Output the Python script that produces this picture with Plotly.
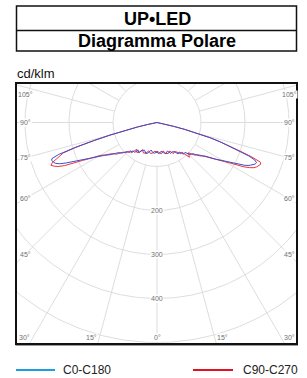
import numpy as np
import plotly.graph_objects as go

# ---------------- data (cd/klm) ----------------
gamma = [0, 4, 8, 12, 16, 20, 24, 28, 31, 34, 37, 40, 43, 46, 49, 52, 55, 58] + list(range(60, 91))

c180 = [66, 70, 69, 64, 72, 75, 69, 72, 80, 76, 85, 84, 93, 95, 106, 111, 127, 141,
        152, 160, 170, 182, 196, 210, 226, 240, 248, 252, 254, 253, 235, 195, 150, 110,
        75, 45, 22, 8, 2, 0, 0, 0, 0, 0, 0, 0, 0, 0, 0]
c270 = [69, 65, 70, 72, 67, 74, 76, 70, 79, 82, 76, 90, 88, 99, 103, 117, 123, 139,
        150, 162, 176, 190, 205, 232, 246, 254, 260, 255, 244, 232, 224, 193, 150, 111,
        76, 46, 22, 8, 2, 0, 0, 0, 0, 0, 0, 0, 0, 0, 0]
c0 = [68, 71, 66, 70, 74, 69, 77, 75, 78, 86, 84, 94, 93, 105, 108, 123, 133, 157,
      174, 184, 196, 210, 222, 231, 238, 242, 244, 238, 222, 195, 172, 150, 125, 95,
      65, 38, 18, 6, 1, 0, 0, 0, 0, 0, 0, 0, 0, 0, 0]
c90 = [65, 68, 72, 66, 73, 75, 71, 80, 77, 81, 89, 88, 108, 99, 113, 119, 137, 156,
       178, 190, 205, 222, 234, 243, 248, 251, 254, 252, 230, 200, 175, 150, 126, 96,
       66, 39, 18, 6, 1, 0, 0, 0, 0, 0, 0, 0, 0, 0, 0]

radial_ticks = [100, 200, 300, 400, 500]
radial_labels = [200, 300, 400]
angle_step = 15
series_names = ["C0-C180", "C90-C270"]

# ---------------- layout constants ----------------
W, H = 307, 378
L, R, T, B = 16, 10, 83, 34
PW, PH = W - L - R, H - T - B
SCALE = 0.44          # px per cd/klm
CX, CY = 157, 122.5   # pixel position of polar centre
x_min = -(CX - L) / SCALE
x_max = x_min + PW / SCALE
y_max = (CY - T) / SCALE
y_min = y_max - PH / SCALE

BLUE_CURVE = "#3d4fd2"
RED_CURVE = "#f03535"
BLUE_LEG = "#1b9fe2"
RED_LEG = "#e3101e"
GRID = "#d9d9d9"
LBL = "#707070"


def px(x):
    return (x - L) / PW


def py(y):
    return (H - B - y) / PH


g = np.radians(np.array(gamma, dtype=float))


def curve(left, right):
    left = np.array(left, dtype=float)
    right = np.array(right, dtype=float)
    xl = -left * np.sin(g)
    yl = -left * np.cos(g)
    xr = right * np.sin(g)
    yr = -right * np.cos(g)
    x = np.concatenate([xl[::-1], xr])
    y = np.concatenate([yl[::-1], yr])
    return x, y


fig = go.Figure()

# grid circles
phi = np.radians(np.arange(0, 361, 1))
for r in radial_ticks:
    fig.add_trace(go.Scatter(x=r * np.sin(phi), y=r * np.cos(phi), mode="lines",
                             line=dict(color=GRID, width=0.9), hoverinfo="skip",
                             showlegend=False))
# radial lines
for a in range(0, 360, angle_step):
    ar = np.radians(a)
    fig.add_trace(go.Scatter(x=[100 * np.sin(ar), 800 * np.sin(ar)],
                             y=[-100 * np.cos(ar), -800 * np.cos(ar)], mode="lines",
                             line=dict(color=GRID, width=0.9), hoverinfo="skip",
                             showlegend=False))

# curves: red first, blue on top
xr_, yr_ = curve(c270, c90)
fig.add_trace(go.Scatter(x=xr_, y=yr_, mode="lines", name=series_names[1],
                         line=dict(color=RED_CURVE, width=1), showlegend=False))
xb_, yb_ = curve(c180, c0)
fig.add_trace(go.Scatter(x=xb_, y=yb_, mode="lines", name=series_names[0],
                         line=dict(color=BLUE_CURVE, width=1), showlegend=False))

annotations = []
small = dict(family="Liberation Sans, Arial, sans-serif", size=7, color=LBL)

# side angle labels
x_side = -300
for a in [45, 60, 75, 90, 105]:
    yv = x_side / np.tan(np.radians(a))
    yv = min(yv, y_max - 25)
    for xs in (x_side, -x_side):
        annotations.append(dict(x=xs, y=yv, xref="x", yref="y", text=f"{a}°",
                                showarrow=False, font=small, bgcolor="white", borderpad=0,
                                xanchor="center", yanchor="middle"))
# bottom angle labels
y_bot = -488
for a in [0, 15, 30]:
    xv = -y_bot * np.tan(np.radians(a))
    if a == 0:
        annotations.append(dict(x=0, y=y_bot, xref="x", yref="y", text="0°",
                                showarrow=False, font=small, bgcolor="white",
                                borderpad=0, xanchor="center", yanchor="middle"))
    else:
        annotations.append(dict(x=-xv - 4, y=y_bot, xref="x", yref="y", text=f"{a}°",
                                showarrow=False, font=small, bgcolor="white",
                                borderpad=0, xanchor="right", yanchor="middle"))
        annotations.append(dict(x=xv + 4, y=y_bot, xref="x", yref="y", text=f"{a}°",
                                showarrow=False, font=small, bgcolor="white",
                                borderpad=0, xanchor="left", yanchor="middle"))
# radial labels
for r in radial_labels:
    annotations.append(dict(x=0, y=-r, xref="x", yref="y", text=str(r),
                            showarrow=False, font=small, bgcolor="white",
                            borderpad=0, xanchor="center", yanchor="middle"))

# title
title_font = dict(family="Liberation Sans, Arial, sans-serif", size=18, color="black")
annotations.append(dict(x=px(157), y=py(19), xref="paper", yref="paper",
                        text="<b>UP•LED</b>", showarrow=False, font=title_font,
                        xanchor="center", yanchor="middle"))
annotations.append(dict(x=px(157), y=py(41), xref="paper", yref="paper",
                        text="<b>Diagramma Polare</b>", showarrow=False, font=title_font,
                        xanchor="center", yanchor="middle"))
annotations.append(dict(x=px(15), y=py(73.5), xref="paper", yref="paper",
                        text="cd/klm", showarrow=False,
                        font=dict(family="Liberation Sans, Arial, sans-serif", size=13,
                                  color="#111"),
                        xanchor="left", yanchor="middle"))
# legend texts
leg_font = dict(family="Liberation Sans, Arial, sans-serif", size=12, color="#222")
annotations.append(dict(x=px(61), y=py(370), xref="paper", yref="paper",
                        text=series_names[0], showarrow=False, font=leg_font,
                        xanchor="left", yanchor="middle"))
annotations.append(dict(x=px(241), y=py(370), xref="paper", yref="paper",
                        text=series_names[1], showarrow=False, font=leg_font,
                        xanchor="left", yanchor="middle"))

shapes = [
    # plot frame
    dict(type="line", xref="paper", yref="paper", x0=px(15.5), x1=px(298), y0=py(345.5),
         y1=py(345.5), line=dict(color="#9a9a9a", width=1)),
    dict(type="rect", xref="paper", yref="paper", x0=0, x1=1, y0=0, y1=1,
         line=dict(color="#111", width=2)),
    # title box
    dict(type="rect", xref="paper", yref="paper", x0=px(16.5), x1=px(296.5), y0=py(51),
         y1=py(6), line=dict(color="#111", width=1.5)),
    dict(type="line", xref="paper", yref="paper", x0=px(16.5), x1=px(296.5), y0=py(30.5),
         y1=py(30.5), line=dict(color="#111", width=1.5)),
    # legend lines
    dict(type="line", xref="paper", yref="paper", x0=px(16), x1=px(55), y0=py(370),
         y1=py(370), line=dict(color=BLUE_LEG, width=2)),
    dict(type="line", xref="paper", yref="paper", x0=px(193), x1=px(233), y0=py(370),
         y1=py(370), line=dict(color=RED_LEG, width=2)),
]

fig.update_layout(
    width=W, height=H,
    margin=dict(l=L, r=R, t=T, b=B, pad=0),
    paper_bgcolor="white", plot_bgcolor="white",
    xaxis=dict(range=[x_min, x_max], visible=False, fixedrange=True),
    yaxis=dict(range=[y_min, y_max], visible=False, fixedrange=True),
    showlegend=False,
    annotations=annotations,
    shapes=shapes,
)

fig.write_html("out.html", config={"displayModeBar": False},
               post_script="document.body.style.margin='0';document.body.style.overflow='hidden';")
